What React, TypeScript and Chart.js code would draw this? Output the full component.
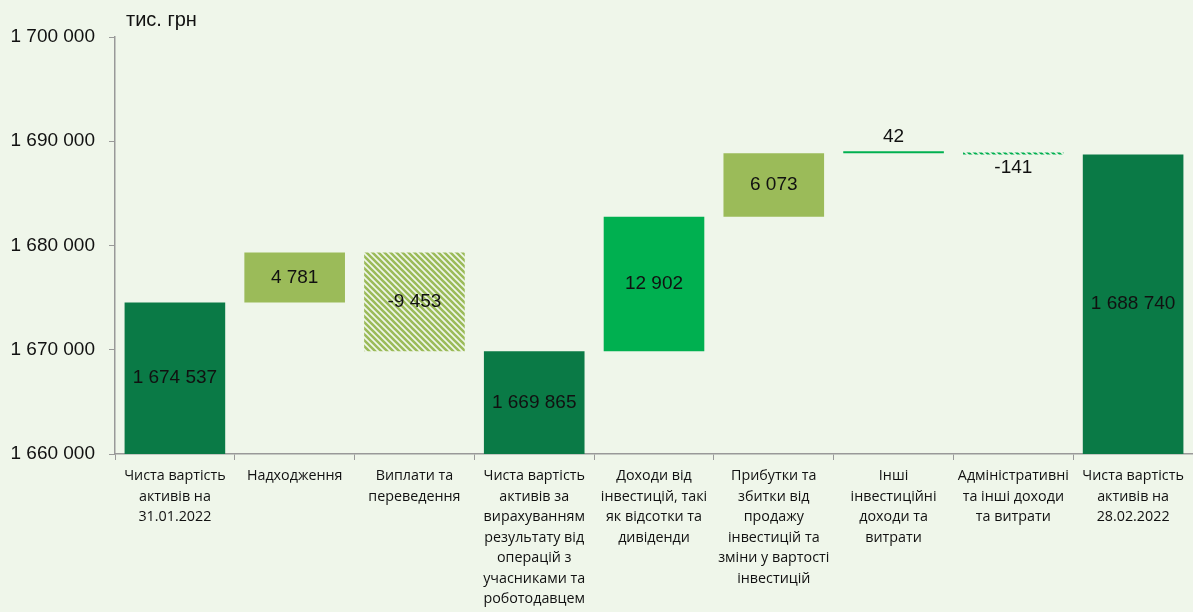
import React, { useEffect, useRef } from "react";
import { Chart, registerables } from "chart.js";

Chart.register(...registerables);

const categories: string[][] = [
  ["Чиста вартість", "активів на", "31.01.2022"],
  ["Надходження"],
  ["Виплати та", "переведення"],
  ["Чиста вартість", "активів за", "вирахуванням", "результату від", "операцій з", "учасниками та", "роботодавцем"],
  ["Доходи від", "інвестицій, такі", "як відсотки та", "дивіденди"],
  ["Прибутки та", "збитки від", "продажу", "інвестицій та", "зміни у вартості", "інвестицій"],
  ["Інші", "інвестиційні", "доходи та", "витрати"],
  ["Адміністративні", "та інші доходи", "та витрати"],
  ["Чиста вартість", "активів на", "28.02.2022"],
];

const barStart = [1660000, 1674537, 1669865, 1660000, 1669865, 1682767, 1688840, 1688741, 1660000];
const barEnd = [1674537, 1679318, 1679318, 1669865, 1682767, 1688840, 1688882, 1688882, 1688740];
const valueLabels = ["1 674 537", "4 781", "-9 453", "1 669 865", "12 902", "6 073", "42", "-141", "1 688 740"];
const labelPlacement = ["center", "center", "center", "center", "center", "center", "above", "below", "center"];
const barKinds = ["total", "up", "down", "total", "income", "up", "thin", "thinDown", "total"];

const yMin = 1660000;
const yMax = 1700000;
const yStep = 10000;

const BG = "#EFF6EA";
const DARK = "#0A7A46";
const OLIVE = "#9BBB59";
const BRIGHT = "#00B050";

function makePattern(color: string): CanvasPattern | string {
  const c = document.createElement("canvas");
  c.width = 6;
  c.height = 6;
  const ctx = c.getContext("2d");
  if (!ctx) return color;
  ctx.strokeStyle = color;
  ctx.lineWidth = 2.6;
  ctx.beginPath();
  ctx.moveTo(-3, -3);
  ctx.lineTo(9, 9);
  ctx.moveTo(-3, 3);
  ctx.lineTo(3, 9);
  ctx.moveTo(3, -3);
  ctx.lineTo(9, 3);
  ctx.stroke();
  const p = ctx.createPattern(c, "repeat");
  return p || color;
}

function fmt(v: number): string {
  return String(Math.round(v)).replace(/\B(?=(\d{3})+(?!\d))/g, " ");
}

export default function App() {
  const ref = useRef<HTMLCanvasElement | null>(null);

  useEffect(() => {
    if (!ref.current) return;
    const olivePattern = makePattern(OLIVE);
    const greenPattern = makePattern(BRIGHT);
    const colors = barKinds.map((k) => {
      if (k === "total") return DARK;
      if (k === "up") return OLIVE;
      if (k === "down") return olivePattern;
      if (k === "income") return BRIGHT;
      if (k === "thin") return BRIGHT;
      return greenPattern;
    });

    const labelsPlugin = {
      id: "valueLabels",
      afterDatasetsDraw(chart: any) {
        const ctx = chart.ctx;
        const meta = chart.getDatasetMeta(0);
        ctx.save();
        ctx.font = "19px 'Liberation Sans', Arial, sans-serif";
        ctx.fillStyle = "#111";
        ctx.textAlign = "center";
        ctx.textBaseline = "middle";
        meta.data.forEach((el: any, i: number) => {
          const top = Math.min(el.y, el.base);
          const bottom = Math.max(el.y, el.base);
          let y = (top + bottom) / 2;
          if (labelPlacement[i] === "above") y = top - 15;
          if (labelPlacement[i] === "below") y = bottom + 13;
          ctx.fillText(valueLabels[i], el.x, y);
        });
        ctx.textAlign = "left";
        ctx.font = "20px 'Liberation Sans', Arial, sans-serif";
        ctx.fillText("тис. грн", chart.chartArea.left + 11, 20);
        ctx.restore();
      },
    };

    const chart = new Chart(ref.current, {
      type: "bar",
      data: {
        labels: categories,
        datasets: [
          {
            data: barStart.map((s, i) => [s, barEnd[i]]) as any,
            backgroundColor: colors as any,
            borderWidth: 0,
            minBarLength: 2,
            barPercentage: 0.84,
            categoryPercentage: 1,
          },
        ],
      },
      options: {
        responsive: false,
        animation: false,
        layout: { padding: { left: 8, top: 37, right: 0, bottom: 0 } },
        plugins: {
          legend: { display: false },
          tooltip: { enabled: false },
        },
        scales: {
          x: {
            grid: { display: true, offset: true, drawOnChartArea: false, tickLength: 6, color: "#999" },
            border: { color: "#999", width: 1.5 },
            ticks: {
              maxRotation: 0,
              autoSkip: false,
              padding: 6,
              color: "#111",
              font: { family: "'Open Sans', sans-serif", size: 14.3, lineHeight: 1.43 },
            },
            afterFit: (s: any) => {
              s.height = 158;
            },
          },
          y: {
            min: yMin,
            max: yMax,
            grid: { display: true, drawOnChartArea: false, tickLength: 6, color: "#999" },
            border: { color: "#999", width: 1.5 },
            ticks: {
              stepSize: yStep,
              padding: 14,
              color: "#111",
              font: { family: "'Liberation Sans', Arial, sans-serif", size: 19 },
              callback: (v: any) => fmt(Number(v)),
            },
            afterFit: (s: any) => {
              s.width = 107;
            },
          },
        },
      },
      plugins: [labelsPlugin],
    });
    return () => chart.destroy();
  }, []);

  return (
    <div style={{ position: "fixed", left: 0, top: 0, width: 1193, height: 612, background: BG }}>
      <canvas ref={ref} width={1193} height={612} style={{ display: "block" }} />
    </div>
  );
}
